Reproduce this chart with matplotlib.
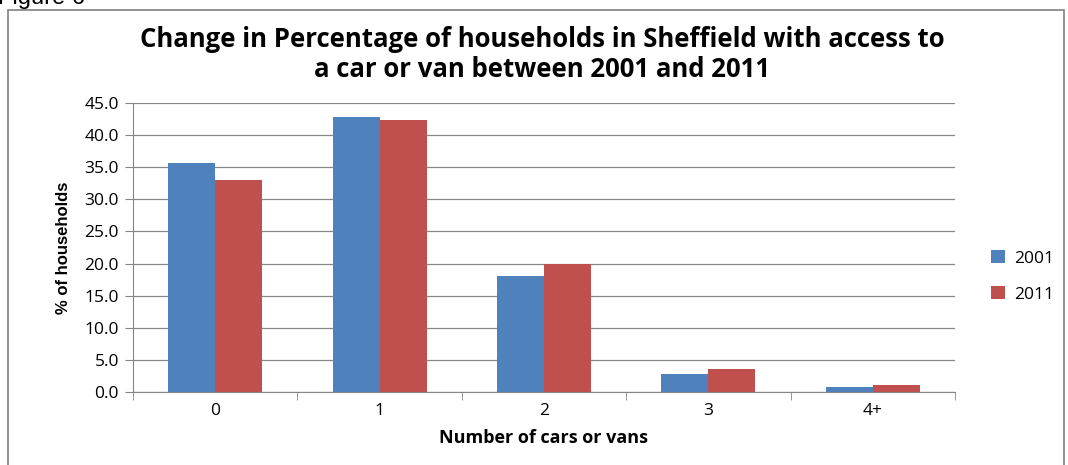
import numpy as np
import matplotlib.pyplot as plt
from matplotlib.patches import Rectangle

# Data
categories = ['0', '1', '2', '3', '4+']
pct_2001 = [35.7, 42.8, 18.0, 2.8, 0.8]
pct_2011 = [33.0, 42.4, 19.9, 3.6, 1.1]
years = ['2001', '2011']
colors = ['#4F81BD', '#C0504D']

plt.rcParams['font.family'] = ['Open Sans', 'DejaVu Sans']

fig = plt.figure(figsize=(10.68, 4.65), dpi=100)

# outer frame of the embedded chart and the clipped caption above it
fig.patches.append(Rectangle((8 / 1068, -0.1), (1064 - 8) / 1068, 1.1 - 10 / 465,
                             transform=fig.transFigure, fill=False,
                             edgecolor='#7f7f7f', linewidth=1.2))
fig.text(-0.002, 0.992, 'Figure 6', fontsize=17, family='Liberation Sans',
         va='baseline', ha='left')

ax = fig.add_axes([0.1245, 0.157, 0.7697, 0.6215])

x = np.arange(len(categories))
w = 0.286
ax.bar(x - w / 2, pct_2001, w, color=colors[0], label=years[0], zorder=3)
ax.bar(x + w / 2, pct_2011, w, color=colors[1], label=years[1], zorder=3)

ax.set_xlim(-0.5, len(categories) - 0.5)
ax.set_ylim(0, 45)
ax.set_yticks(np.arange(0, 45.1, 5))
ax.set_yticklabels([f'{v:.1f}' for v in np.arange(0, 45.1, 5)], fontsize=12.5)
ax.set_xticks(x)
ax.set_xticklabels(categories, fontsize=12.5)
ax.tick_params(axis='x', length=0, pad=8)
ax.set_xticks(np.arange(-0.5, len(categories)), minor=True)
ax.tick_params(axis='x', which='minor', length=6, color='#868686')
ax.tick_params(axis='y', length=6, color='#868686', pad=4)

ax.grid(axis='y', color='#868686', linewidth=0.9, zorder=0)
for s in ['top', 'right']:
    ax.spines[s].set_visible(False)
for s in ['left', 'bottom']:
    ax.spines[s].set_color('#868686')

ax.set_xlabel('Number of cars or vans', fontsize=13, fontweight='bold', labelpad=7)
ax.set_ylabel('% of households', fontsize=12, fontweight='bold',
              family='Liberation Sans', labelpad=10)

fig.text(0.508, 0.882, 'Change in Percentage of households in Sheffield with access to\n'
         'a car or van between 2001 and 2011', ha='center', va='center',
         fontsize=18.5, fontweight='bold', linespacing=1.15)

ax.legend(loc='center left', bbox_to_anchor=(1.025, 0.40), frameon=False,
          fontsize=12.5, handlelength=0.8, handleheight=0.8, labelspacing=1.1,
          handletextpad=0.5)

fig.savefig('out.png', dpi=100)
